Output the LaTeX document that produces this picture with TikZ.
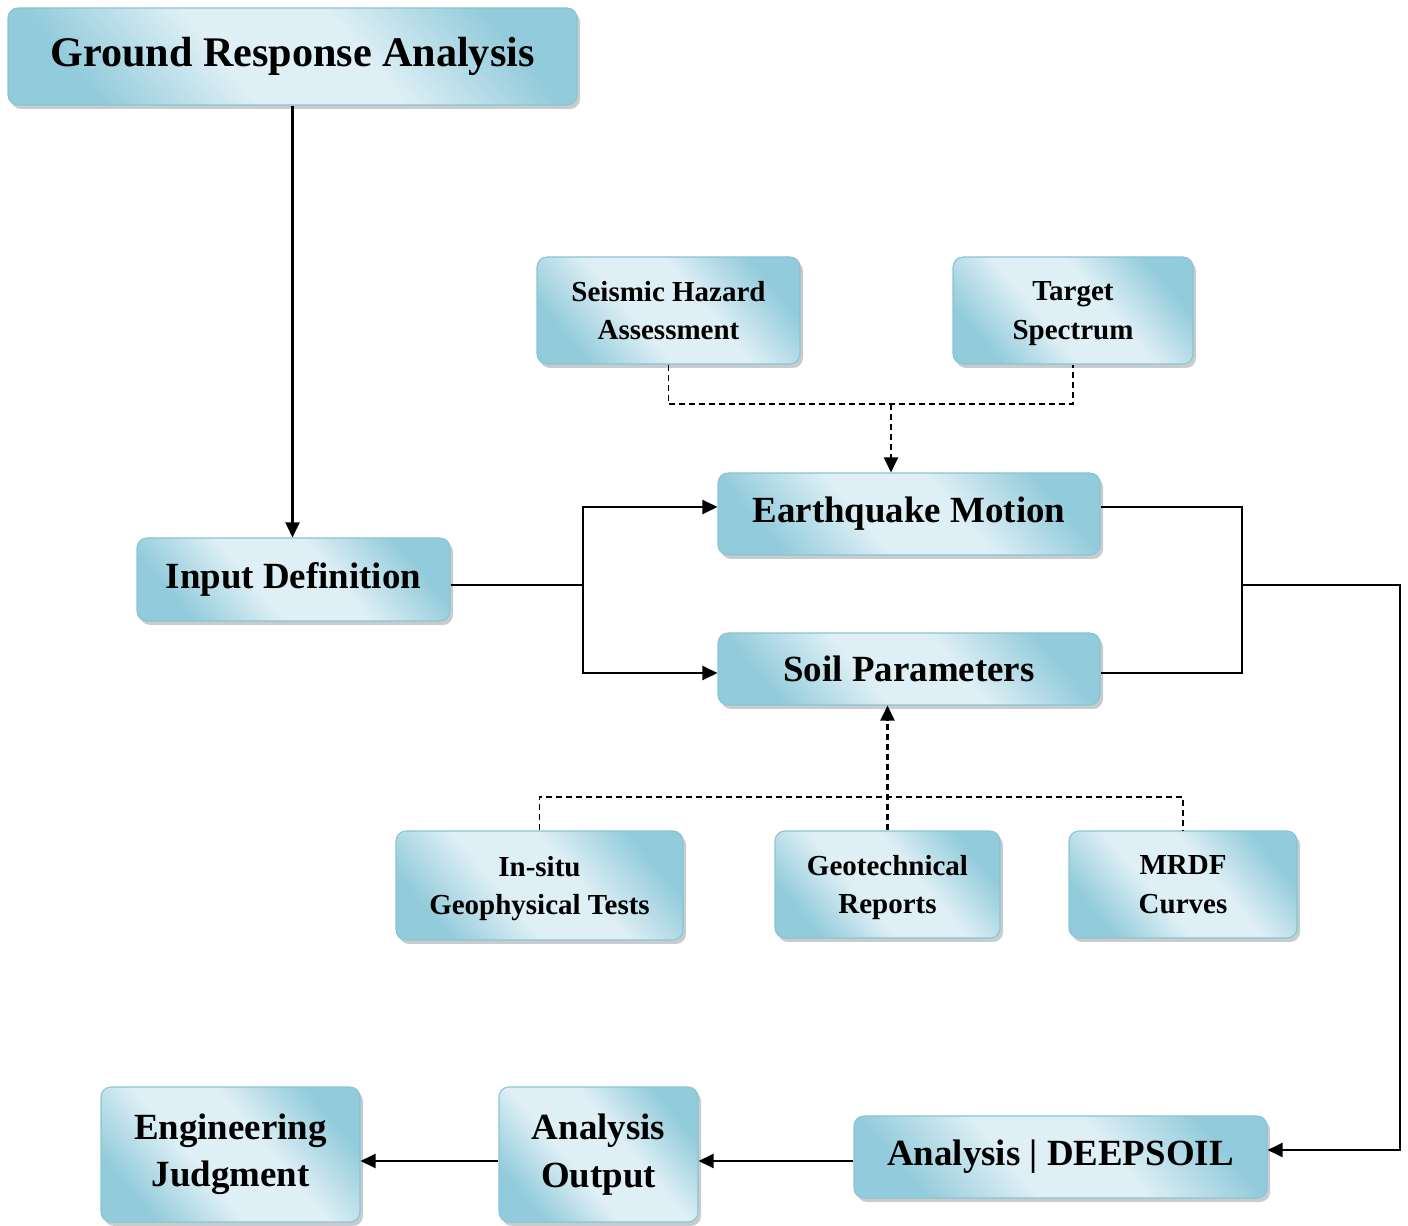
\documentclass[tikz,border=0pt]{standalone}
\usepackage{fontspec}
\setmainfont{Liberation Serif}
\usetikzlibrary{arrows.meta,shadows}

\definecolor{boxdark}{RGB}{146,203,219}
\definecolor{boxlight}{RGB}{222,239,245}
\definecolor{boxline}{RGB}{138,196,212}

% dark at both ends, wide light band in the middle
\pgfdeclarehorizontalshading{boxshade}{100bp}{color(0bp)=(boxdark); color(25bp)=(boxdark);
    color(42bp)=(boxlight); color(58bp)=(boxlight); color(75bp)=(boxdark); color(100bp)=(boxdark)}

\begin{document}
\begin{tikzpicture}[
    box/.style={rounded corners=0.2cm, draw=boxline, line width=0.6pt,
        shading=boxshade, shading angle=40, align=center, font=\bfseries,
        drop shadow={shadow xshift=0.06cm, shadow yshift=-0.08cm, opacity=0.45, fill=gray!80!boxdark}},
    big/.style={font=\fontsize{21}{27}\selectfont\bfseries},
    small/.style={font=\fontsize{16.5}{22}\selectfont\bfseries},
    ln/.style={line width=1.2pt},
    arr/.style={line width=1.2pt, -{Triangle[length=0.3cm,width=0.28cm]}},
    dsh/.style={line width=0.8pt, dash pattern=on 0.12cm off 0.08cm}
]
    \useasboundingbox (0,0) rectangle (28.16,-24.52);

    % main chain
    \node[box, minimum width=11.38cm, minimum height=1.94cm, font=\fontsize{24}{29}\selectfont\bfseries] (gra) at (5.85,-1.13) {Ground Response Analysis};
    \node[box, big, minimum width=6.26cm, minimum height=1.66cm] (inp) at (5.87,-11.59) {Input Definition};
    \node[box, big, minimum width=7.64cm, minimum height=1.64cm] (eq) at (18.18,-10.28) {Earthquake Motion};
    \node[box, big, minimum width=7.64cm, minimum height=1.44cm] (soil) at (18.18,-13.38) {Soil Parameters};
    \node[box, big, minimum width=8.26cm, minimum height=1.64cm] (ads) at (21.21,-23.14) {Analysis | DEEPSOIL};
    \node[box, big, minimum width=3.98cm, minimum height=2.7cm] (aout) at (11.97,-23.09) {Analysis\\Output};
    \node[box, big, minimum width=5.18cm, minimum height=2.7cm] (ej) at (4.61,-23.09) {Engineering\\Judgment};

    % sources
    \node[box, small, minimum width=5.26cm, minimum height=2.14cm] (sha) at (13.37,-6.21) {Seismic Hazard\\Assessment};
    \node[box, small, text depth=0pt, minimum width=4.8cm, minimum height=2.14cm] (ts) at (21.46,-6.21) {Target\\Spectrum};
    \node[box, small, text depth=0pt, minimum width=5.74cm, minimum height=2.18cm] (insitu) at (10.79,-17.71) {In-situ\\Geophysical Tests};
    \node[box, small, text depth=0pt, minimum width=4.5cm, minimum height=2.14cm] (geo) at (17.75,-17.69) {Geotechnical\\Reports};
    \node[box, small, minimum width=4.56cm, minimum height=2.14cm] (mrdf) at (23.66,-17.69) {MRDF\\Curves};

    \coordinate (j1) at (11.66,-11.7);
    \coordinate (j2) at (24.84,-11.7);
    \coordinate (c1) at (28.0,-11.7);
    \coordinate (d1) at (17.82,-8.08);
    \coordinate (d2) at (17.72,-15.94);

    \draw[arr] (gra.south) -- (gra.south |- inp.north);
    \draw[ln] (inp.east |- j1) -- (j1);
    \draw[arr] (j1) |- ([yshift=0.14cm]eq.west); \draw[arr] (j1) |- ([yshift=-0.08cm]soil.west);
    \draw[ln] ([yshift=0.14cm]eq.east) -| (j2); \draw[ln] ([yshift=-0.08cm]soil.east) -| (j2);
    \draw[arr] (j2) -- (c1) |- ([yshift=0.14cm]ads.east);
    \draw[arr] ([yshift=-0.08cm]ads.west) -- ([yshift=-0.08cm]ads.west -| aout.east);
    \draw[arr] ([yshift=-0.13cm]aout.west) -- ([yshift=-0.13cm]ej.east);

    \draw[dsh] (sha) |- (d1) -| (ts);
    \draw[dsh, arr] (d1) -- (d1 |- eq.north);
    \draw[dsh] (insitu) |- (d2) -| (mrdf);
    \draw[dsh, arr] (geo) -- (geo |- soil.south);
\end{tikzpicture}
\end{document}
